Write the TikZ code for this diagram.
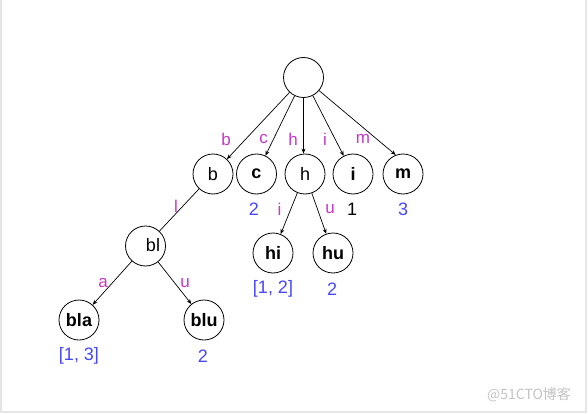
\documentclass[tikz,border=0pt]{standalone}
\usepackage{fontspec}
\setmainfont{Liberation Sans}
\newfontfamily\cjkfont{Noto Sans CJK SC}
\usetikzlibrary{arrows.meta}
\definecolor{edgemag}{RGB}{200,55,200}
\definecolor{valblue}{RGB}{70,70,250}
\definecolor{framegray}{RGB}{230,230,230}
\definecolor{wmgray}{RGB}{195,195,195}
\begin{document}
\begin{tikzpicture}[x=1pt,y=-1pt,
  trnode/.style={circle,draw,line width=0.8pt,minimum size=40pt,inner sep=0pt,font=\fontsize{18}{18}\selectfont},
  bnode/.style={trnode,font=\fontsize{18}{18}\selectfont\bfseries},
  elabel/.style={text=edgemag,font=\fontsize{17}{17}\selectfont,inner sep=0pt},
  vlabel/.style={text=valblue,font=\fontsize{18}{18}\selectfont,inner sep=0pt},
  arr/.style={-{Stealth[length=5pt,width=4pt]},line width=0.7pt},
  plain/.style={line width=0.7pt}]
\useasboundingbox (0,0) rectangle (588,414);
\draw[framegray,line width=1.2pt] (1,0) -- (1,412) -- (586,412) -- (586,0);
% nodes
\node[trnode] (root) at (303.5,77.5) {};
\node[trnode] (b) at (213,174) {b};
\node[bnode] (c) at (256.5,174) {c};
\node[trnode] (h) at (305,174) {h};
\node[bnode] (i) at (353,174) {i};
\node[bnode] (m) at (403,174) {m};
\node[trnode] (bl) at (145.5,246) {};
\node[font=\fontsize{18}{18}\selectfont,inner sep=0pt] (bltext) at (153,245) {bl};
\node[bnode] (bla) at (79,320) {bla};
\node[bnode] (blu) at (204,320) {blu};
\node[bnode] (hi) at (273,253) {hi};
\node[bnode] (hu) at (333,253) {hu};
% edges
\draw[arr] (root) -- (b);
\draw[arr] (root) -- (c);
\draw[arr] (root.south) -- (root.south |- h.north);
\draw[arr] (root) -- (i);
\draw[arr] (root) -- (m.111);
\draw[plain] (b) -- (bl);
\draw[arr] (bl) -- (bla);
\draw[arr] (bl) -- (blu);
\draw[arr] (h) -- (hi);
\draw[arr] (h) -- (hu);
% edge labels
\node[elabel] (lb) at (226,139) {b};
\node[elabel] (lc) at (263.5,139) {c};
\node[elabel] (lh) at (293,139) {h};
\node[elabel] (li) at (325,139) {i};
\node[elabel] (lm) at (363,139) {m};
\node[elabel] (ll) at (176,206) {l};
\node[elabel] (la) at (103,283) {a};
\node[elabel] (lu) at (185,283) {u};
\node[elabel] (lhi) at (279.5,209) {i};
\node[elabel] (lhu) at (330,209) {u};
% values
\node[vlabel] (vc) at (254,209) {2};
\node[vlabel,text=black] (vi) at (352,209) {1};
\node[vlabel] (vm) at (403,209) {3};
\node[vlabel] (vhi) at (273,289) {[1, 2]};
\node[vlabel] (vhu) at (332,289) {2};
\node[vlabel] (vbla) at (79,356) {[1, 3]};
\node[vlabel] (vblu) at (203,356) {2};
% watermark
\node[text=wmgray,font=\cjkfont\fontsize{14}{14}\selectfont,inner sep=0pt] (wm) at (529,395) {@51CTO博客};
\end{tikzpicture}
\end{document}
